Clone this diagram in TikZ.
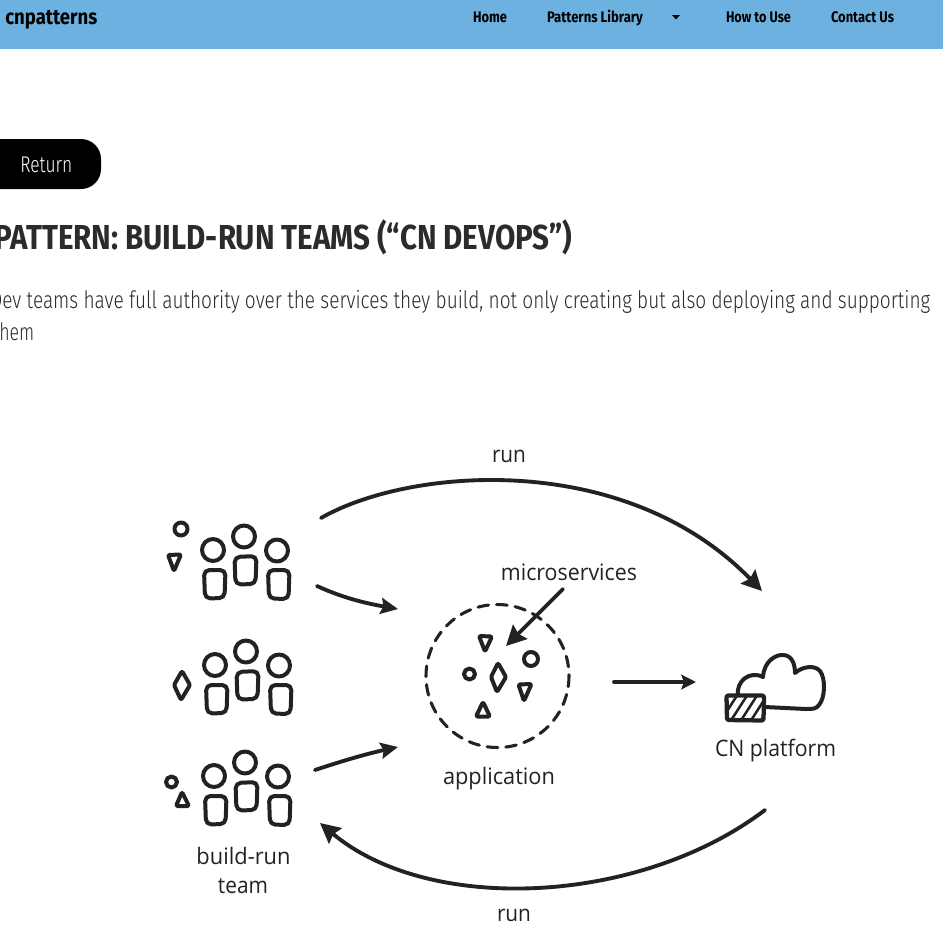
\documentclass[tikz,border=0pt]{standalone}
\usepackage{graphicx}
\usepackage{fontspec}
\usetikzlibrary{arrows.meta}
\setmainfont{Open Sans}
\newfontfamily\webfont{Fira Sans}
\newfontfamily\weblight{Fira Sans Light}
\definecolor{ink}{HTML}{222222}
\definecolor{navblue}{HTML}{6DB1E0}
\definecolor{headc}{HTML}{2B2B2B}
\newcommand{\wtxt}[3]{\resizebox{\dimexpr #1pt*3/4\relax}{\height}{\fontsize{#2}{#2}\selectfont #3}}
\tikzset{
  sk/.style={draw=ink,line width=3pt,line cap=round,line join=round},
  conn/.style={draw=ink,line width=2.9pt,line cap=round,-{Stealth[length=15pt,width=15pt,inset=2pt]}},
  lbl/.style={text=ink,inner sep=0pt,anchor=center},
  nav/.style={text=black,inner sep=0pt,anchor=center},
}
\newcommand{\teamgroup}[2]{%
 \begin{scope}[shift={(#1,#2)}]
  \draw[sk] (213,550) circle [radius=11];
  \draw[sk] (244,536.5) circle [radius=11];
  \draw[sk] (277,550.5) circle [radius=11];
  \draw[sk,rounded corners=4pt] (204,570) -- (225.5,570) -- (224.5,598) -- (205,598.5) -- cycle;
  \draw[sk,rounded corners=4pt] (234.5,557) -- (256.5,556) -- (255.5,584) -- (235.5,584.5) -- cycle;
  \draw[sk,rounded corners=4pt] (268,570) -- (289.5,570) -- (288.5,599) -- (269,598.5) -- cycle;
 \end{scope}}
\begin{document}
\begin{tikzpicture}[x=0.75pt,y=-0.75pt]
\useasboundingbox (0,0) rectangle (943,951);
\clip (0,0) rectangle (943,951);
\fill[white] (0,0) rectangle (943,951);
% web page
\fill[navblue] (0,0) rectangle (943,49);
\node[nav,anchor=west] (brand) at (5,20) {\webfont\bfseries\wtxt{92}{16}{cnpatterns}};
\node[nav] (home) at (490,17) {\webfont\bfseries\wtxt{34}{11.5}{Home}};
\node[nav] (lib) at (595,18) {\webfont\bfseries\wtxt{96}{11.5}{Patterns Library}};
\fill[black] (672,15) -- (680,15) -- (676,19.5) -- cycle;
\node[nav] (how) at (758.5,17) {\webfont\bfseries\wtxt{65}{11.5}{How to Use}};
\node[nav] (contact) at (862.5,17) {\webfont\bfseries\wtxt{63}{11.5}{Contact Us}};
\fill[black,rounded corners=15pt] (-30,139) rectangle (101,189);
\node[nav,text=white,anchor=west] (ret) at (20,165) {\weblight\wtxt{52}{17}{Return}};
\node[nav,text=headc,anchor=west] (title) at (-6,237.5) {\webfont\bfseries\wtxt{578}{26}{PATTERN: BUILD-RUN TEAMS (“CN DEVOPS”)}};
\node[nav,text=headc,anchor=west] (body1) at (-10,302) {\weblight\wtxt{940}{18}{Dev teams have full authority over the services they build, not only creating but also deploying and supporting}};
\node[nav,text=headc,anchor=west] (body2) at (-7,332) {\weblight\wtxt{41}{18}{them}};
% teams
\teamgroup{0}{0}
\teamgroup{2}{115}
\teamgroup{1}{226}
\draw[sk] (181,529) circle [radius=6.5];
\draw[sk,rounded corners=1pt] (168,555) -- (181,554.5) -- (174,571) -- cycle;
\draw[sk,rounded corners=1pt] (182,671) -- (190,685) -- (181,700) -- (174,685) -- cycle;
\draw[sk] (171.5,782) circle [radius=5.5];
\draw[sk,rounded corners=1pt] (182,792) -- (189,806) -- (176,806) -- cycle;
% application
\draw[sk,line width=2.3pt,dash pattern=on 8pt off 6pt] (497.5,676) circle [radius=71.5];
\draw[sk,rounded corners=1pt] (479,636) -- (492,636.5) -- (485,651.5) -- cycle;
\draw[sk] (469.5,674) circle [radius=5.5];
\draw[sk] (531,659) circle [radius=7];
\draw[sk,rounded corners=1pt] (498,663) -- (506,677) -- (497,692) -- (491,677) -- cycle;
\draw[sk,rounded corners=1pt] (518.5,684.5) -- (531.5,684) -- (524,701) -- cycle;
\draw[sk,rounded corners=1pt] (483,702) -- (490,716.5) -- (476,716.5) -- cycle;
% cloud
\draw[sk] (738,695) .. controls (736,682) and (749,670) .. (763,677)
  .. controls (764,661) and (776,654) .. (784,655)
  .. controls (792,656) and (795,664) .. (795,673)
  .. controls (803,666) and (815,665) .. (820,671)
  .. controls (826,679) and (825,698) .. (819,705)
  .. controls (816,709) and (813,709) .. (806,709)
  -- (765,707);
\begin{scope}
 \clip (727,696) rectangle (764,720);
 \foreach \d in {0,10,...,60}{
  \draw[ink,line width=1.9pt] (720+\d,722) -- (738+\d,694);
 }
\end{scope}
\draw[sk,line width=3.2pt,rounded corners=1.5pt] (726.5,695.5) -- (764,695.5) -- (763.5,720.5) -- (727,720) -- cycle;
% connector end points
\coordinate (runAs) at (321,518);
\coordinate (runAe) at (762,591);
\coordinate (t1s) at (317,586);
\coordinate (t1e) at (398,609);
\coordinate (t3s) at (315,770);
\coordinate (t3e) at (398,747);
\coordinate (runBs) at (765,810);
\coordinate (runBe) at (320,823);
\coordinate (ms) at (563,589);
\coordinate (me) at (506,646);
\coordinate (as) at (614,682);
\coordinate (ae) at (696,682);
\draw[conn] (runAs) .. controls (410,467) and (625,450) .. (runAe);
\draw[conn,-{Stealth[length=13pt,width=12pt,inset=2pt]}] (t1s) .. controls (345,599) and (370,604) .. (t1e);
\draw[conn,-{Stealth[length=13pt,width=12pt,inset=2pt]}] (t3s) .. controls (345,760) and (370,753) .. (t3e);
\draw[conn] (runBs) .. controls (640,905) and (430,915) .. (runBe);
\draw[conn] (ms) -- (me);
\draw[conn,-{Stealth[length=11pt,width=11pt,inset=2pt]}] (as) -- (ae);
% labels
\node[lbl] (lrunA) at (509,456) {\wtxt{34}{17}{run}};
\node[lbl] (lms) at (569,572) {\wtxt{136}{17}{microservices}};
\node[lbl] (lapp) at (499,779) {\wtxt{112}{17}{application}};
\node[lbl] (lcn) at (775.5,751) {\wtxt{121}{17}{CN platform}};
\node[lbl] (lbr) at (243.5,856) {\wtxt{94}{17}{build-run}};
\node[lbl] (ltm) at (243,886) {\wtxt{50}{17}{team}};
\node[lbl] (lrunB) at (514,915) {\wtxt{34}{17}{run}};
\end{tikzpicture}
\end{document}
